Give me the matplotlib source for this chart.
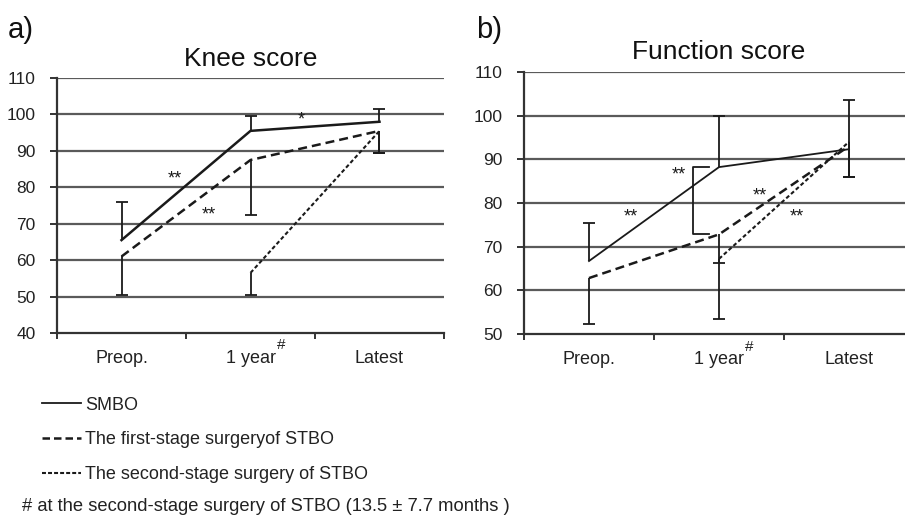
import matplotlib
matplotlib.use("Agg")
import matplotlib.pyplot as plt
from matplotlib.lines import Line2D

plt.rcParams['font.family'] = ['Liberation Sans', 'DejaVu Sans']

cats = ['Preop.', '1 year', 'Latest']
x = [0, 1, 2]
x2 = [1, 2]

# knee score
knee_smbo = [65.5, 95.5, 98]
knee_smbo_top = [76, 99.5, 101.5]
knee_first = [61, 87.5, 95.5]
knee_first_bot = [50.5, 72.5, 89.5]
knee_second = [56.5, 95.5]
knee_second_bot = [50.5, 89.5]

# function score
func_smbo = [66.7, 88.2, 92.3]
func_smbo_top = [75.3, 100, 103.5]
func_first = [62.8, 72.8, 93.0]
func_first_bot = [52.2, 66.3, 86]
func_second = [67.2, 94.0]
func_second_bot = [53.5, 86]

ink = '#1a1a1a'
grid_c = '#5a5a5a'
first_dash = (3.6, 2.0)
second_dash = (1.9, 1.2)


def setup(ax, ylo, yhi):
    ax.set_xlim(-0.5, 2.5)
    ax.set_ylim(ylo, yhi)
    ax.set_yticks(range(ylo, yhi + 1, 10))
    for yy in range(ylo + 10, yhi + 1, 10):
        ax.axhline(yy, color=grid_c, lw=1.6, zorder=1)
    for s in ['top', 'right']:
        ax.spines[s].set_visible(False)
    for s in ['left', 'bottom']:
        ax.spines[s].set_color('#333333')
        ax.spines[s].set_linewidth(1.6)
    ax.set_xticks(x)
    ax.set_xticklabels(cats, fontsize=13, color='#222222')
    ax.tick_params(axis='x', which='major', length=0, pad=12)
    ax.set_xticks([-0.5, 0.5, 1.5, 2.5], minor=True)
    ax.tick_params(axis='x', which='minor', length=4, width=1.4, color='#333333')
    ax.tick_params(axis='y', length=5, width=1.4, color='#333333', labelsize=12.5, pad=10.5,
                   labelcolor='#222222')
    # superscript mark next to "1 year"
    ax.text(1.235, -0.075, '#', transform=ax.get_xaxis_transform(), fontsize=11,
            ha='center', va='bottom', color='#222222')


def bars(ax, xs, y, ends, lw=1.3):
    ax.vlines(xs, y, ends, color=ink, lw=lw, zorder=3)
    ax.plot(xs, ends, ls='none', marker='_', ms=9, mew=lw, color=ink, zorder=3)


fig = plt.figure(figsize=(9.05, 5.17), dpi=100)

# a) knee score
ax1 = fig.add_axes([0.063, 0.356, 0.4276, 0.493])
setup(ax1, 40, 110)
bars(ax1, x, knee_smbo, knee_smbo_top)
bars(ax1, x, knee_first, knee_first_bot)
bars(ax1, x2, knee_second, knee_second_bot)
ax1.plot(x, knee_smbo, color=ink, lw=1.8, zorder=4)
ax1.plot(x, knee_first, color=ink, lw=1.8, dashes=first_dash, zorder=4)
ax1.plot(x2, knee_second, color=ink, lw=1.5, dashes=second_dash, zorder=4)
ax1.text(1.39, 98.4, '*', fontsize=13, ha='center', va='center', color=ink)
ax1.text(0.415, 82.4, '**', fontsize=13, ha='center', va='center', color=ink)
ax1.text(0.68, 72.4, '**', fontsize=13, ha='center', va='center', color=ink)
ax1.set_title('Knee score', fontsize=19, pad=9, color='#111111')
fig.text(0.009, 0.942, 'a)', fontsize=21, ha='left', va='center', color='#111111')

# b) function score
ax2 = fig.add_axes([0.579, 0.354, 0.431, 0.507])
setup(ax2, 50, 110)
bars(ax2, x, func_smbo, func_smbo_top)
bars(ax2, x, func_first, func_first_bot)
bars(ax2, x2, func_second, func_second_bot)
ax2.plot(x, func_smbo, color=ink, lw=1.3, zorder=4)
ax2.plot(x, func_first, color=ink, lw=1.8, dashes=first_dash, zorder=4)
ax2.plot(x2, func_second, color=ink, lw=1.5, dashes=second_dash, zorder=4)
# bracket between SMBO and first-stage at 1 year
ax2.plot([0.92, 0.80, 0.80, 0.92], [func_smbo[1], func_smbo[1], func_first[1], func_first[1]],
         color=ink, lw=1.3, zorder=4)
ax2.text(0.69, 86.3, '**', fontsize=13, ha='center', va='center', color=ink)
ax2.text(0.32, 76.8, '**', fontsize=13, ha='center', va='center', color=ink)
ax2.text(1.31, 81.6, '**', fontsize=13, ha='center', va='center', color=ink)
ax2.text(1.60, 76.7, '**', fontsize=13, ha='center', va='center', color=ink)
ax2.set_title('Function score', fontsize=19, pad=9, color='#111111')
fig.text(0.526, 0.942, 'b)', fontsize=21, ha='left', va='center', color='#111111')

# legend and footnote
h1 = Line2D([], [], color=ink, lw=1.3)
h2 = Line2D([], [], color=ink, lw=1.8, dashes=(3.0, 1.6))
h3 = Line2D([], [], color=ink, lw=1.5, dashes=(1.9, 1.0))
fig.legend([h1, h2, h3],
           ['SMBO', 'The first-stage surgeryof STBO', 'The second-stage surgery of STBO'],
           loc='upper left', bbox_to_anchor=(0.046, 0.233), frameon=False,
           fontsize=13, handlelength=2.2, handletextpad=0.22, labelspacing=0.98,
           borderpad=0, borderaxespad=0, labelcolor='#222222')
fig.text(0.024, 0.021, '# at the second-stage surgery of STBO (13.5 \u00b1 7.7 months )',
         fontsize=13.2, ha='left', va='center', color='#222222')

fig.savefig('out.png', dpi=100)
